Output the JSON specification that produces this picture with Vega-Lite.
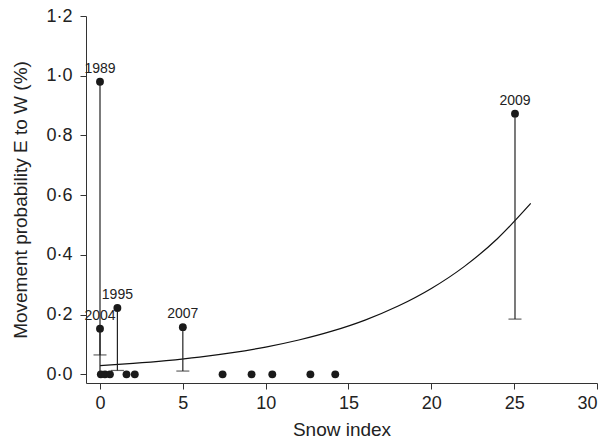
{
  "$schema": "https://vega.github.io/schema/vega-lite/v6.json",
  "width": 511,
  "height": 367,
  "autosize": "none",
  "padding": {"left": 86, "top": 16, "right": 9, "bottom": 59},
  "config": {
    "view": {"stroke": null},
    "font": "Liberation Sans",
    "axis": {"grid": false, "domainColor": "#333", "tickColor": "#333", "labelColor": "#222", "titleColor": "#222", "labelFont": "Liberation Sans", "titleFont": "Liberation Sans", "labelFontSize": 18, "titleFontSize": 19, "titleFontWeight": "normal", "tickSize": 6, "domainWidth": 1, "tickWidth": 1}
  },
  "datasets": {
    "points": [
      {"year": "1989", "x": 0, "y": 0.98, "lo": 0.065},
      {"year": "2004", "x": 0, "y": 0.153, "lo": 0},
      {"year": "1995", "x": 1.05, "y": 0.222, "lo": 0.013},
      {"year": "2007", "x": 5.0, "y": 0.158, "lo": 0.011},
      {"year": "2009", "x": 25.05, "y": 0.873, "lo": 0.185},
      {"year": "", "x": 0.05, "y": 0, "lo": null},
      {"year": "", "x": 0.3, "y": 0, "lo": null},
      {"year": "", "x": 0.6, "y": 0, "lo": null},
      {"year": "", "x": 1.6, "y": 0, "lo": null},
      {"year": "", "x": 2.1, "y": 0, "lo": null},
      {"year": "", "x": 7.4, "y": 0, "lo": null},
      {"year": "", "x": 9.15, "y": 0, "lo": null},
      {"year": "", "x": 10.4, "y": 0, "lo": null},
      {"year": "", "x": 12.7, "y": 0, "lo": null},
      {"year": "", "x": 14.2, "y": 0, "lo": null}
    ],
    "curve": [
      {"x": 0, "y": 0.029},
      {"x": 2, "y": 0.0365},
      {"x": 4, "y": 0.0459},
      {"x": 6, "y": 0.0577},
      {"x": 8, "y": 0.0726},
      {"x": 10, "y": 0.0913},
      {"x": 12, "y": 0.1149},
      {"x": 14, "y": 0.1445},
      {"x": 16, "y": 0.1817},
      {"x": 18, "y": 0.2286},
      {"x": 20, "y": 0.2875},
      {"x": 22, "y": 0.3616},
      {"x": 24, "y": 0.4549},
      {"x": 26, "y": 0.5722}
    ]
  },
  "layer": [
    {
      "data": {"name": "curve"},
      "mark": {"type": "line", "color": "#111", "strokeWidth": 1.2, "interpolate": "monotone"},
      "encoding": {
        "x": {"field": "x", "type": "quantitative", "scale": {"domain": [-0.845, 30], "nice": false, "zero": false},
          "axis": {"title": "Snow index", "values": [0, 5, 10, 15, 20, 25, 30], "labelPadding": 5, "titlePadding": 8}},
        "y": {"field": "y", "type": "quantitative", "scale": {"domain": [-0.029, 1.2], "nice": false, "zero": false},
          "axis": {"title": "Movement probability E to W (%)", "values": [0, 0.2, 0.4, 0.6, 0.8, 1.0, 1.2], "labelExpr": "replace(format(datum.value, '.1f'), '.', '·')", "labelPadding": 8, "titlePadding": 15}}
      }
    },
    {
      "data": {"name": "points"},
      "transform": [{"filter": "datum.lo != null"}],
      "mark": {"type": "rule", "color": "#222", "strokeWidth": 1.2},
      "encoding": {
        "x": {"field": "x", "type": "quantitative"},
        "y": {"field": "lo", "type": "quantitative"},
        "y2": {"field": "y"}
      }
    },
    {
      "data": {"name": "points"},
      "transform": [{"filter": "datum.lo != null && datum.lo > 0"}],
      "mark": {"type": "tick", "orient": "horizontal", "color": "#222", "size": 13, "thickness": 1.2},
      "encoding": {
        "x": {"field": "x", "type": "quantitative"},
        "y": {"field": "lo", "type": "quantitative"}
      }
    },
    {
      "data": {"name": "points"},
      "mark": {"type": "circle", "color": "#1a1a1a", "opacity": 1, "size": 62},
      "encoding": {
        "x": {"field": "x", "type": "quantitative"},
        "y": {"field": "y", "type": "quantitative"}
      }
    },
    {
      "data": {"name": "points"},
      "transform": [{"filter": "datum.year != ''"}],
      "mark": {"type": "text", "fontSize": 14, "color": "#222", "dy": -13, "font": "Liberation Sans"},
      "encoding": {
        "x": {"field": "x", "type": "quantitative"},
        "y": {"field": "y", "type": "quantitative"},
        "text": {"field": "year"}
      }
    }
  ]
}
